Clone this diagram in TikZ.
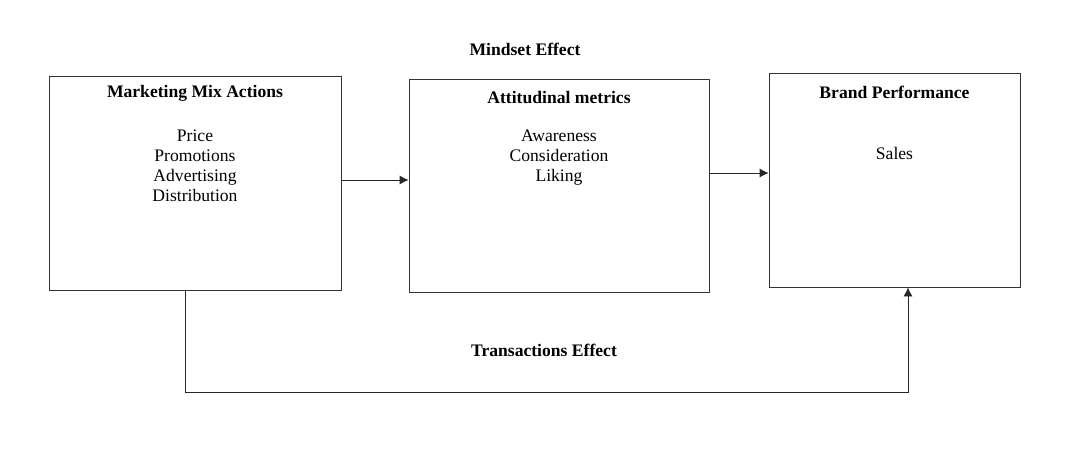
\documentclass[tikz,border=0pt]{standalone}
\usepackage{fontspec}
\setmainfont{Liberation Serif}
\usetikzlibrary{arrows.meta}

\begin{document}
\begin{tikzpicture}[x=1pt,y=-1pt,
    box/.style={draw=black!80,line width=0.8pt,rectangle,inner sep=0pt},
    head/.style={inner sep=0pt,font=\fontsize{17.6}{20}\selectfont\bfseries},
    items/.style={inner sep=0pt,align=center,font=\fontsize{17.6}{20}\selectfont},
    flow/.style={draw=black!85,line width=0.8pt,-{Latex[length=9pt,width=9pt]}}]
    \useasboundingbox (0,0) rectangle (1074,466);
    \node [box,minimum width=292,minimum height=214] (mma) at (195,183) {};
    \node [head] (mmatitle) at (195,93) {Marketing Mix Actions};
    \node [items] (mmalist) at (195,166) {Price\\Promotions\\Advertising\\Distribution};
    \node [box,minimum width=300,minimum height=213] (am) at (559,185.5) {};
    \node [head] (amtitle) at (559,97) {Attitudinal metrics};
    \node [items] (amlist) at (559,158) {Awareness\\Consideration\\Liking};
    \node [box,minimum width=251,minimum height=214] (bp) at (894.5,180) {};
    \node [head] (bptitle) at (894.5,92) {Brand Performance};
    \node [items] (bplist) at (894.5,153) {Sales};
    \node [head] (mindset) at (525,49) {Mindset Effect};
    \node [head] (trans) at (544,350) {Transactions Effect};
    \draw [flow] ([yshift=3]mma.east) -- ([yshift=3]mma.east -| am.west);
    \draw [flow] ([yshift=12.5]am.east) -- ([yshift=12.5]am.east -| bp.west);
    \draw [flow] ([xshift=-10]mma.south) -- ++(0,102) -| ([xshift=13.5]bp.south);
\end{tikzpicture}
\end{document}
